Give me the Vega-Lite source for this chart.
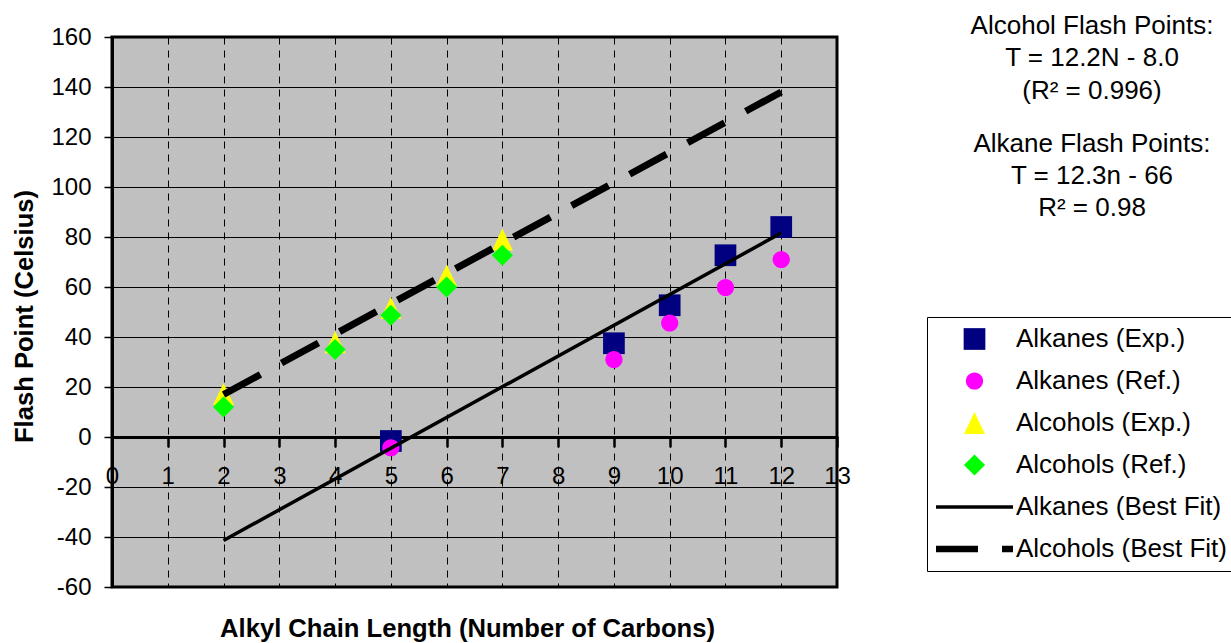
{
  "$schema": "https://vega.github.io/schema/vega-lite/v6.json",
  "width": 725,
  "height": 550,
  "autosize": {"type": "none"},
  "padding": {"left": 112, "top": 37, "right": 394, "bottom": 56},
  "background": "white",
  "config": {
    "font": "Liberation Sans",
    "view": {"fill": "#C0C0C0", "stroke": "black", "strokeWidth": 3},
    "axis": {
      "labelFont": "Liberation Sans",
      "labelColor": "black",
      "labelFontSize": 24,
      "titleFont": "Liberation Sans",
      "titleFontSize": 25.6,
      "titleFontWeight": "bold",
      "titleColor": "black",
      "domainColor": "black",
      "tickColor": "black",
      "gridColor": "black",
      "gridOpacity": 1
    }
  },
  "title": {
    "text": ["Alcohol Flash Points:", "T = 12.2N - 8.0", "(R² = 0.996)"],
    "subtitle": ["Alkane Flash Points:", "T = 12.3n - 66", "R² = 0.98"],
    "orient": "bottom",
    "anchor": "end",
    "frame": "group",
    "align": "center",
    "offset": 0,
    "dx": 255,
    "dy": -629,
    "font": "Liberation Sans",
    "fontSize": 26,
    "fontWeight": "normal",
    "color": "black",
    "lineHeight": 32.5,
    "subtitleFont": "Liberation Sans",
    "subtitleFontSize": 26,
    "subtitleColor": "black",
    "subtitleLineHeight": 32,
    "subtitlePadding": 27
  },
  "datasets": {
    "points": [
      {"series": "Alkanes (Exp.)", "carbons": 5, "flash": -1.6},
      {"series": "Alkanes (Exp.)", "carbons": 9, "flash": 37.5},
      {"series": "Alkanes (Exp.)", "carbons": 10, "flash": 52.7},
      {"series": "Alkanes (Exp.)", "carbons": 11, "flash": 72.7},
      {"series": "Alkanes (Exp.)", "carbons": 12, "flash": 84},
      {"series": "Alkanes (Ref.)", "carbons": 5, "flash": -4.3},
      {"series": "Alkanes (Ref.)", "carbons": 9, "flash": 31},
      {"series": "Alkanes (Ref.)", "carbons": 10, "flash": 45.6},
      {"series": "Alkanes (Ref.)", "carbons": 11, "flash": 59.8},
      {"series": "Alkanes (Ref.)", "carbons": 12, "flash": 71},
      {"series": "Alcohols (Exp.)", "carbons": 2, "flash": 17.2},
      {"series": "Alcohols (Exp.)", "carbons": 4, "flash": 37.9},
      {"series": "Alcohols (Exp.)", "carbons": 5, "flash": 51.6},
      {"series": "Alcohols (Exp.)", "carbons": 6, "flash": 64.6},
      {"series": "Alcohols (Exp.)", "carbons": 7, "flash": 79},
      {"series": "Alcohols (Ref.)", "carbons": 2, "flash": 12},
      {"series": "Alcohols (Ref.)", "carbons": 4, "flash": 35},
      {"series": "Alcohols (Ref.)", "carbons": 5, "flash": 48.7},
      {"series": "Alcohols (Ref.)", "carbons": 6, "flash": 60},
      {"series": "Alcohols (Ref.)", "carbons": 7, "flash": 72.7}
    ],
    "fits": [
      {"series": "Alkanes (Best Fit)", "carbons": 2, "flash": -41.4},
      {"series": "Alkanes (Best Fit)", "carbons": 12, "flash": 81.6},
      {"series": "Alcohols (Best Fit)", "carbons": 2, "flash": 17},
      {"series": "Alcohols (Best Fit)", "carbons": 12, "flash": 138}
    ]
  },
  "layer": [
    {
      "data": {"name": "points"},
      "mark": {"type": "point", "filled": true, "opacity": 1, "size": 5929, "strokeWidth": 0},
      "encoding": {
        "x": {
          "field": "carbons",
          "type": "quantitative",
          "scale": {"domain": [0, 13], "nice": false, "zero": false},
          "axis": {
            "title": "Alkyl Chain Length (Number of Carbons)",
            "values": [0, 1, 2, 3, 4, 5, 6, 7, 8, 9, 10, 11, 12, 13],
            "labelExpr": "'' + datum.value",
            "offset": -150,
            "domainWidth": 3,
            "tickSize": 9,
            "tickWidth": 2.5,
            "tickCap": "round",
            "labelPadding": 18,
            "labelFlush": false,
            "labelOverlap": false,
            "grid": true,
            "gridDash": [7, 6],
            "gridWidth": 1,
            "titleX": 355,
            "titleY": 199,
            "titleBaseline": "alphabetic",
            "titleAnchor": "middle",
            "titleAlign": "center"
          }
        },
        "y": {
          "field": "flash",
          "type": "quantitative",
          "scale": {"domain": [-60, 160], "nice": false, "zero": false},
          "axis": {
            "title": "Flash Point (Celsius)",
            "values": [-60, -40, -20, 0, 20, 40, 60, 80, 100, 120, 140, 160],
            "labelExpr": "'' + datum.value",
            "domainWidth": 3,
            "tickSize": 8,
            "tickWidth": 1.5,
            "labelPadding": 13,
            "labelFlush": false,
            "labelOverlap": false,
            "grid": true,
            "gridWidth": 1.2,
            "titleAngle": 270,
            "titleX": -80,
            "titleY": 279,
            "titleBaseline": "alphabetic",
            "titleAlign": "center"
          }
        },
        "color": {
          "field": "series",
          "type": "nominal",
          "scale": {
            "domain": ["Alkanes (Exp.)", "Alkanes (Ref.)", "Alcohols (Exp.)", "Alcohols (Ref.)", "Alkanes (Best Fit)", "Alcohols (Best Fit)"],
            "range": ["#000080", "#FF00FF", "#FFFF00", "#00FF00", "#000000", "#000000"]
          },
          "legend": {
            "title": null,
            "orient": "none",
            "legendX": 815,
            "legendY": 280,
            "strokeColor": "black",
            "fillColor": "white",
            "padding": 9,
            "labelFont": "Liberation Sans",
            "labelFontSize": 26,
            "labelColor": "black",
            "labelOffset": 3,
            "labelLimit": 400,
            "symbolSize": 5929,
            "symbolStrokeWidth": 0,
            "symbolOpacity": 1,
            "clipHeight": 26,
            "rowPadding": 16
          }
        },
        "shape": {
          "field": "series",
          "type": "nominal",
          "scale": {
            "domain": ["Alkanes (Exp.)", "Alkanes (Ref.)", "Alcohols (Exp.)", "Alcohols (Ref.)", "Alkanes (Best Fit)", "Alcohols (Best Fit)"],
            "range": [
              "M-0.282,-0.282H0.282V0.282H-0.282Z",
              "M-0.224,0A0.224,0.224,0,1,0,0.224,0A0.224,0.224,0,1,0,-0.224,0Z",
              "M0,-0.286L0.272,0.286L-0.272,0.286Z",
              "M0,-0.274L0.274,0L0,0.274L-0.274,0Z",
              "M-1,-0.045H1V0.045H-1Z",
              "M-1,-0.084H0.09V0.084H-1ZM0.714,-0.084H1V0.084H0.714Z"
            ]
          },
          "legend": {
            "title": null,
            "orient": "none",
            "legendX": 815,
            "legendY": 280,
            "strokeColor": "black",
            "fillColor": "white",
            "padding": 9,
            "labelFont": "Liberation Sans",
            "labelFontSize": 26,
            "labelColor": "black",
            "labelOffset": 3,
            "labelLimit": 400,
            "symbolSize": 5929,
            "symbolStrokeWidth": 0,
            "symbolOpacity": 1,
            "clipHeight": 26,
            "rowPadding": 16
          }
        }
      }
    },
    {
      "data": {"name": "fits"},
      "transform": [{"filter": "datum.series === 'Alkanes (Best Fit)'"}],
      "mark": {"type": "line", "color": "black", "strokeWidth": 3.5, "strokeCap": "butt"},
      "encoding": {
        "x": {"field": "carbons", "type": "quantitative"},
        "y": {"field": "flash", "type": "quantitative"}
      }
    },
    {
      "data": {"name": "fits"},
      "transform": [{"filter": "datum.series === 'Alcohols (Best Fit)'"}],
      "mark": {"type": "line", "color": "black", "strokeWidth": 7, "strokeDash": [42, 24], "strokeCap": "butt"},
      "encoding": {
        "x": {"field": "carbons", "type": "quantitative"},
        "y": {"field": "flash", "type": "quantitative"}
      }
    }
  ]
}
